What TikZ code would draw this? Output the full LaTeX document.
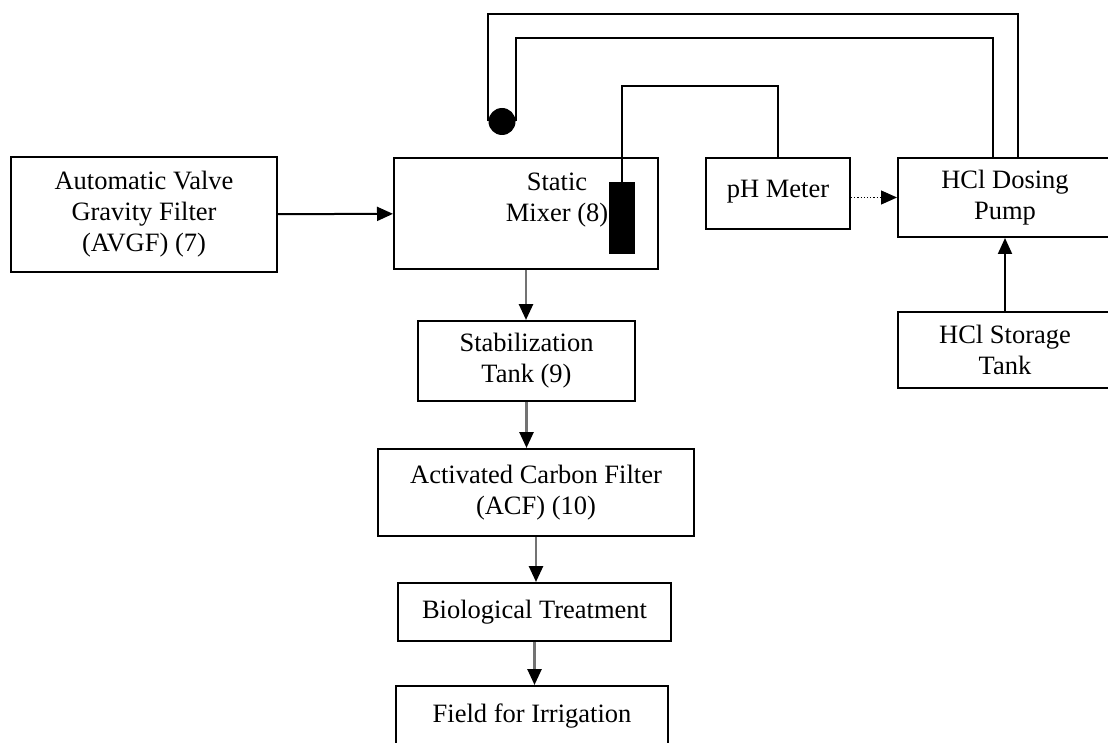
\documentclass[tikz,border=0pt]{standalone}
\usepackage{fontspec}
\setmainfont{Liberation Serif}
\usetikzlibrary{shapes.geometric, arrows.meta}
\tikzstyle{process} = [rectangle, line width=2pt, text centered, align=center, draw=black, inner sep=0pt]
\tikzstyle{arrow} = [line width=2pt, -{Triangle[length=16pt, width=14pt]}]
\tikzstyle{flow} = [line width=2.6pt, draw=black!55, -{Triangle[length=16pt, width=14pt, color=black]}]
\tikzstyle{pipe} = [line width=2pt]

\begin{document}
\begin{tikzpicture}[x=1pt, y=-1pt, font=\fontsize{26.5}{31}\selectfont]
    \useasboundingbox (0,0) rectangle (1108,743);

    \node (avgf) [process, minimum width=266, minimum height=115] at (144,214.5) {Automatic Valve\\Gravity Filter\\(AVGF) (7)};
    \node (mixer) [process, minimum width=264, minimum height=111] at (526,213.5) {};
    \node (mixertext) [align=center] at (557,200) {Static\\Mixer (8)};
    \node (inject) [rectangle, fill=black, minimum width=26, minimum height=72, inner sep=0pt] at (622,218) {};
    \node (ph) [process, minimum width=144, minimum height=71] at (778,193.5) {\raisebox{9pt}{pH Meter}};
    \node (dosing) [process, minimum width=214, minimum height=79] at (1005,197.5) {HCl Dosing\\Pump};
    \node (storage) [process, minimum width=214, minimum height=76] at (1005,350) {HCl Storage\\Tank};
    \node (nozzle) [circle, fill=black, minimum size=27, inner sep=0pt] at (502,121.5) {};
    \node (stab) [process, minimum width=217, minimum height=80] at (526.5,361) {Stabilization\\Tank (9)};
    \node (acf) [process, minimum width=316, minimum height=87] at (536,492.5) {Activated Carbon Filter\\(ACF) (10)};
    \node (bio) [process, minimum width=273, minimum height=58] at (534.5,612) {Biological Treatment};
    \node (field) [process, minimum width=272, minimum height=60] at (532,716) {Field for Irrigation};

    \draw [arrow] (avgf) -- (mixer);
    \draw [arrow, line width=1.2pt, dotted] (ph.east |- dosing.west) -- (dosing.west);
    \draw [arrow] (storage) -- (dosing);
    \draw [flow] (mixer.south) -- (mixer.south |- stab.north);
    \draw [flow] (stab.south) -- (stab.south |- acf.north);
    \draw [flow] (acf.south) -- (acf.south |- bio.north);
    \draw [flow] (bio.south) -- (bio.south |- field.north);

    \draw [pipe] (inject.north) -- ++(0,-96) -| (ph.north);
    \draw [pipe] (nozzle.west) -- ++(0,-107.5) -| ([xshift=13pt]dosing.north);
    \draw [pipe] (nozzle.east) -- ++(0,-83.5) -| ([xshift=-12pt]dosing.north);

    \end{tikzpicture}
\end{document}
